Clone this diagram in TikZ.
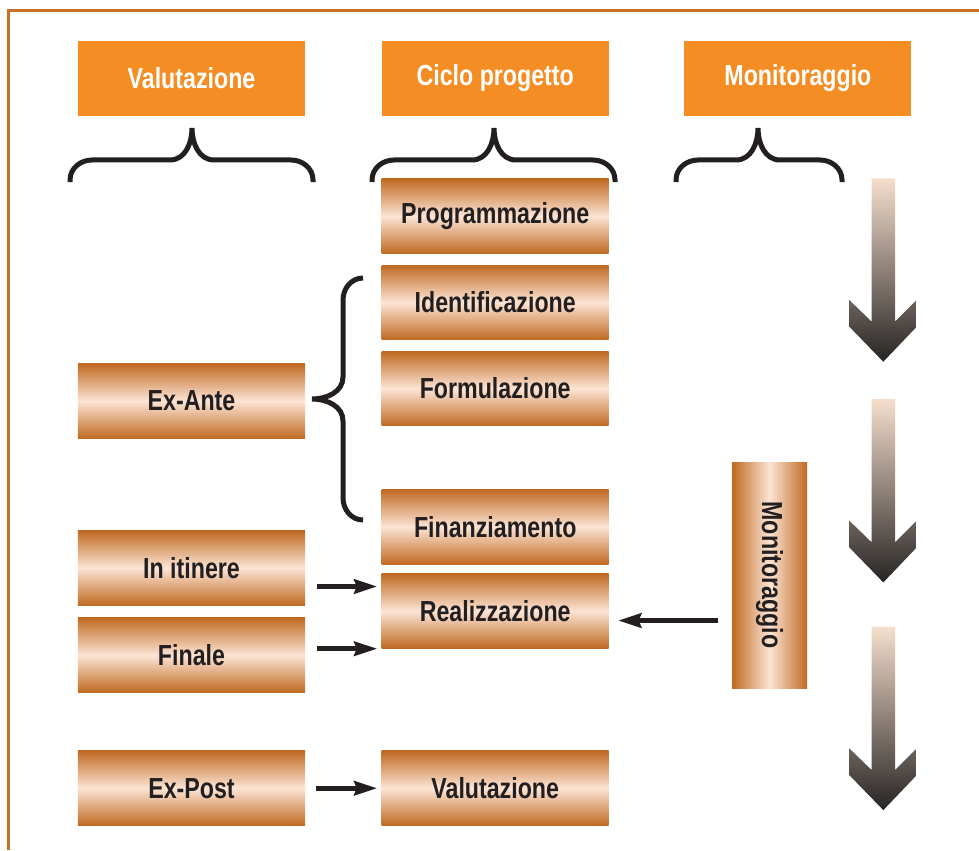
\documentclass[tikz,border=0pt]{standalone}
\usepackage{fontspec}
\setmainfont{Liberation Sans}[FakeStretch=0.8]
\usepackage{tikz}
\usetikzlibrary{arrows.meta, positioning}
\definecolor{headorange}{RGB}{244,141,35}
\definecolor{copper}{RGB}{192,106,34}
\definecolor{copperlight}{RGB}{252,228,212}
\definecolor{ink}{RGB}{35,31,32}
\definecolor{framecol}{RGB}{200,112,38}
\definecolor{peach}{RGB}{246,222,204}
\definecolor{arrowdark}{RGB}{38,36,36}
\newcommand{\boxfont}{\fontsize{16.5}{18}\selectfont\bfseries}

\begin{document}
\begin{tikzpicture}[
  x=0.2mm, y=-0.2mm,
  node distance=2.2mm and 15.2mm,
  headbox/.style={fill=headorange, text=white, font=\boxfont, minimum width=45.4mm, minimum height=14.9mm, inner sep=0pt},
  stepbox/.style={top color=copper, bottom color=copper, middle color=copperlight, text=ink, font=\boxfont, minimum width=45.4mm, minimum height=14.9mm, inner sep=0pt},
  monbox/.style={left color=copper, right color=copper, middle color=copperlight, text=ink, font=\boxfont, minimum width=15mm, minimum height=45.2mm, inner sep=0pt},
  brace/.style={draw=ink, line width=1mm},
  arrow/.style={-{Stealth[length=4.6mm, width=2.8mm, inset=0.5mm]}, draw=ink, line width=1.05mm},
  bigarrow/.style={top color=peach, bottom color=arrowdark}
]
\useasboundingbox (0,0) rectangle (979,850);
\draw[framecol, line width=0.6mm] (8.5,850) -- (8.5,10.8) -- (979,10.8);

% headers
\node[headbox] (hval) at (191.5,78.5) {Valutazione};
\node[headbox, right=of hval] (hciclo) {Ciclo progetto};
\node[headbox, right=15mm of hciclo] (hmon) {Monitoraggio};

% braces under the headers
\foreach \l/\m/\r in {70/192/313, 372/494/615, 676/758/842}
  \draw[brace] (\l,182) -- (\l,180) to[out=90,in=180] (\l+22,160) -- (\m-22,160)
    to[out=0,in=-90] (\m,128) to[out=-90,in=180] (\m+22,160) -- (\r-22,160)
    to[out=0,in=90] (\r,180) -- (\r,182);

% ciclo progetto
\node[stepbox, below=12.5mm of hciclo] (prog) {Programmazione};
\node[stepbox, below=of prog] (ident) {Identificazione};
\node[stepbox, below=of ident] (form) {Formulazione};
\node[stepbox, below=12.6mm of form] (finanz) {Finanziamento};
\node[stepbox, below=1.8mm of finanz] (realiz) {Realizzazione};
\node[stepbox, below=20.4mm of realiz] (valut) {Valutazione};

% valutazione
\node[stepbox] (exante) at (191.5,401) {Ex-Ante};
\node[stepbox] (initinere) at (191.5,568) {In itinere};
\node[stepbox, below=2.4mm of initinere] (finale) {Finale};
\node[stepbox, left=of valut] (expost) {Ex-Post};

% monitoraggio
\node[monbox] (monitor) at (769.5,575) {\rotatebox{-90}{Monitoraggio}};

% brace for ex-ante
\draw[brace] (363,278) to[out=180,in=90] (343,300) -- (343,377)
  to[out=-90,in=0] (312,399) to[out=0,in=90] (343,421) -- (343,498)
  to[out=-90,in=180] (363,520);

\draw[arrow] ([xshift=2.4mm,yshift=-3.7mm]initinere.east) -- ([xshift=-0.8mm,yshift=-3.7mm]initinere.east -| realiz.west);
\draw[arrow] ([xshift=2.4mm,yshift=1.3mm]finale.east) -- ([xshift=-0.8mm,yshift=1.3mm]finale.east -| realiz.west);
\draw[arrow, shorten <=2.2mm, shorten >=0.8mm] (expost) -- (valut);
\draw[arrow] ([xshift=-2.8mm,yshift=-1.9mm]monitor.west |- realiz.east) -- ([xshift=1.8mm,yshift=-1.9mm]realiz.east);

% big arrows on the right
\foreach \t in {178.3, 399, 626.7}
  \shade[bigarrow] (871.7,\t) -- (895,\t) -- (895,\t+143.4) -- (916.7,\t+121.7) -- (916.7,\t+148.4)
    -- (883.3,\t+183.4) -- (849.3,\t+148.4) -- (849.3,\t+121.7) -- (871.7,\t+143.4) -- cycle;
\end{tikzpicture}
\end{document}
